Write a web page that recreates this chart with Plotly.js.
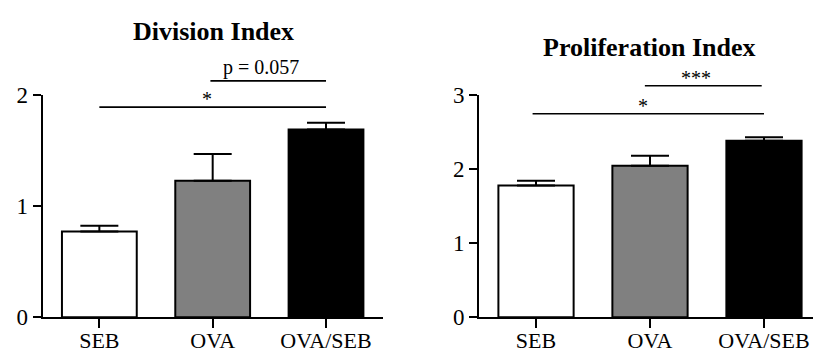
<!DOCTYPE html>
<html>
<head>
<meta charset="utf-8">
<script src="https://cdn.plot.ly/plotly-3.0.1.min.js"></script>
<style>html,body{margin:0;padding:0;background:#fff;overflow:hidden;}</style>
</head>
<body>
<div id="chart" style="width:813px;height:350px;"></div>
<script>
// ---- data ----
const categories = ["SEB", "OVA", "OVA/SEB"];
const barColors = ["#ffffff", "#808080", "#000000"];

const divisionMeans = [0.77, 1.227, 1.688];
const divisionSEM = [0.053, 0.24, 0.06];

const prolifMeans = [1.775, 2.043, 2.38];
const prolifSEM = [0.066, 0.135, 0.048];

const divisionTitle = "Division Index";
const prolifTitle = "Proliferation Index";

// significance brackets: [fromIndex, toIndex, label]
const divisionBrackets = [
  {from: 0, to: 2, label: "*"},
  {from: 0.98, to: 2, label: "p = 0.057"}
];
const prolifBrackets = [
  {from: -0.03, to: 2, label: "*"},
  {from: 0.955, to: 1.98, label: "***"}
];

// ---- styling helpers ----
const FONT = "Liberation Serif";

function barTrace(means, sem, xa, ya) {
  return {
    type: "bar",
    x: categories,
    y: means,
    xaxis: xa,
    yaxis: ya,
    width: 0.66,
    marker: {color: barColors, line: {color: "#000", width: 2}},
    error_y: {
      type: "data",
      symmetric: false,
      array: sem,
      arrayminus: sem.map(() => 0),
      color: "#000",
      thickness: 2,
      width: 19
    },
    hoverinfo: "skip",
    showlegend: false
  };
}

const data = [
  barTrace(divisionMeans, divisionSEM, "x", "y"),
  barTrace(prolifMeans, prolifSEM, "x2", "y2")
];

function xAxis(domain, range, anchor) {
  return {
    domain: domain, range: range, anchor: anchor, type: "category",
    showline: true, linecolor: "#000", linewidth: 2,
    ticks: "outside", ticklen: 9, tickwidth: 2, tickcolor: "#000",
    ticklabelstandoff: -7,
    showgrid: false, zeroline: false,
    tickfont: {family: FONT, size: 22, color: "#000"}
  };
}
function yAxis(domain, range, anchor) {
  return {
    domain: domain, range: range, anchor: anchor, dtick: 1,
    showline: true, linecolor: "#000", linewidth: 2,
    ticks: "outside", ticklen: 8, tickwidth: 2, tickcolor: "#000",
    showgrid: false, zeroline: false,
    tickfont: {family: FONT, size: 23, color: "#000"}
  };
}

// bracket y positions (paper) and label placement
const divBracketY = [0.694, 0.769];
const prolifBracketY = [0.675, 0.755];

const shapes = [];
const annotations = [];

function addBrackets(brackets, ys, xref) {
  brackets.forEach((b, i) => {
    shapes.push({
      type: "line", xref: xref, yref: "paper",
      x0: b.from, x1: b.to, y0: ys[i], y1: ys[i],
      line: {color: "#000", width: 1.6}
    });
    const isStar = b.label.indexOf("*") >= 0;
    const xc = b.label === "*" ? (b.from + b.to) / 2 - 0.05 : (b.from + b.to) / 2 - 0.06;
    annotations.push({
      xref: xref, yref: "paper", x: xc, y: ys[i],
      xanchor: "center", yanchor: "bottom",
      yshift: isStar ? -5 : 0,
      showarrow: false, text: b.label,
      font: {family: FONT, size: 20, color: "#000"}
    });
  });
}
addBrackets(divisionBrackets, divBracketY, "x");
addBrackets(prolifBrackets, prolifBracketY, "x2");

annotations.push({
  xref: "paper", yref: "paper", x: 0.262, y: 0.909,
  xanchor: "center", yanchor: "middle", showarrow: false,
  text: "<b>" + divisionTitle + "</b>",
  font: {family: FONT, size: 26, color: "#000"}
});
annotations.push({
  xref: "paper", yref: "paper", x: 0.7995, y: 0.863,
  xanchor: "center", yanchor: "middle", showarrow: false,
  text: "<b>" + prolifTitle + "</b>",
  font: {family: FONT, size: 26, color: "#000"}
});

const layout = {
  width: 813, height: 350,
  margin: {l: 0, r: 0, t: 0, b: 0},
  paper_bgcolor: "#fff", plot_bgcolor: "#fff",
  font: {family: FONT, color: "#000"},
  xaxis: xAxis([0.0525, 0.4707], [-0.5, 2.5], "y"),
  yaxis: yAxis([0.0934, 0.7294], [0, 2], "x"),
  xaxis2: xAxis([0.5892, 1.0], [-0.5, 2.43], "y2"),
  yaxis2: yAxis([0.0934, 0.7294], [0, 3], "x2"),
  shapes: shapes,
  annotations: annotations,
  bargap: 0.34
};

Plotly.newPlot("chart", data, layout, {displayModeBar: false, staticPlot: true});
</script>
</body>
</html>
